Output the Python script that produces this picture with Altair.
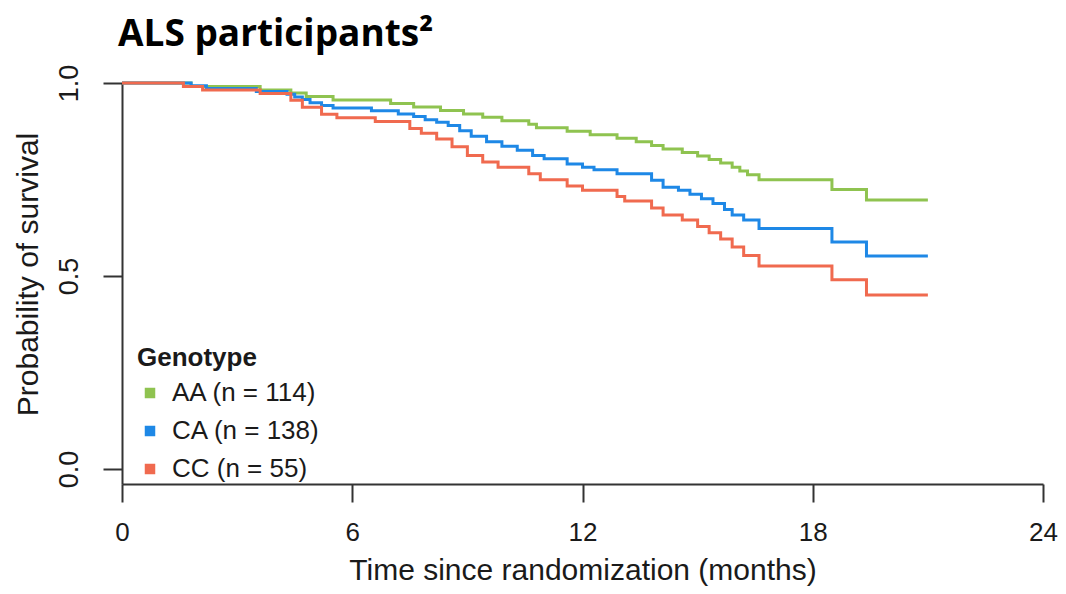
import altair as alt
import pandas as pd

# ---- data (Kaplan-Meier step curves) ----
genotypes = ["AA", "CA", "CC"]
n_per_group = [114, 138, 55]
colors = ["#8fc350", "#1e88e6", "#f06a4f"]

time_AA = [0, 1.8, 3.6, 4.4, 4.8, 5.5, 7.0, 7.6, 8.3, 8.9, 9.4, 9.9, 10.6, 10.8, 11.6,
           12.2, 12.9, 13.4, 13.8, 14.1, 14.6, 15.0, 15.3, 15.6, 15.9, 16.1, 16.3, 16.6,
           18.5, 19.4, 21.0]
surv_AA = [1.0, 0.991, 0.982, 0.974, 0.965, 0.956, 0.947, 0.938, 0.929, 0.920, 0.911, 0.902,
           0.893, 0.884, 0.875, 0.866, 0.857, 0.848, 0.838, 0.829, 0.820, 0.811, 0.802,
           0.793, 0.782, 0.772, 0.762, 0.749, 0.724, 0.697, 0.697]

time_CA = [0, 1.8, 2.2, 3.5, 4.3, 4.5, 4.7, 4.9, 5.2, 5.5, 6.5, 7.2, 7.6, 7.9, 8.2, 8.5,
           8.8, 9.1, 9.5, 9.9, 10.3, 10.7, 11.0, 11.6, 12.0, 12.3, 12.9, 13.8, 14.1, 14.5,
           14.8, 15.1, 15.4, 15.7, 15.9, 16.2, 16.6, 18.5, 19.4, 21.0]
surv_CA = [1.0, 0.993, 0.986, 0.978, 0.971, 0.964, 0.957, 0.949, 0.942, 0.935, 0.928, 0.920,
           0.913, 0.905, 0.898, 0.890, 0.876, 0.862, 0.848, 0.836, 0.826, 0.812, 0.804,
           0.790, 0.782, 0.775, 0.765, 0.748, 0.730, 0.722, 0.712, 0.700, 0.688, 0.672,
           0.658, 0.645, 0.623, 0.588, 0.552, 0.552]

time_CC = [0, 1.6, 2.1, 3.6, 4.4, 4.7, 5.2, 5.6, 6.6, 7.5, 7.8, 8.2, 8.6, 9.0, 9.4, 9.8,
           10.6, 10.9, 11.6, 12.0, 12.9, 13.1, 13.8, 14.1, 14.6, 15.0, 15.3, 15.6, 15.9,
           16.2, 16.6, 18.5, 19.4, 21.0]
surv_CC = [1.0, 0.991, 0.982, 0.973, 0.955, 0.937, 0.919, 0.910, 0.900, 0.882, 0.870, 0.855,
           0.835, 0.812, 0.795, 0.782, 0.765, 0.749, 0.733, 0.722, 0.706, 0.694, 0.676,
           0.658, 0.645, 0.628, 0.612, 0.596, 0.575, 0.553, 0.526, 0.490, 0.451, 0.451]

x_ticks = [0, 6, 12, 18, 24]
y_ticks = [0, 0.5, 1.0]

labels = [f"{g} (n = {n})" for g, n in zip(genotypes, n_per_group)]
series = [(time_AA, surv_AA), (time_CA, surv_CA), (time_CC, surv_CC)]

rows = []
for lab, (ts, ss) in zip(labels, series):
    for t, s in zip(ts, ss):
        rows.append({"time": t, "surv": s, "Genotype": lab})
df = pd.DataFrame(rows)

FONT = "Liberation Sans"

chart = alt.Chart(df).mark_line(interpolate="step-after", strokeWidth=3).encode(
    x=alt.X("time:Q",
            scale=alt.Scale(domain=[0, 24], nice=False, zero=False),
            axis=alt.Axis(values=x_ticks, title="Time since randomization (months)",
                          grid=False, tickSize=18, labelPadding=17, titlePadding=10,
                          labelFontSize=26, titleFontSize=30, labelFont=FONT, titleFont=FONT,
                          titleFontWeight="normal", labelColor="#1a1a1a", titleColor="#1a1a1a",
                          domainColor="#333333", tickColor="#333333", domainWidth=2, tickWidth=2,
                          labelFlush=False)),
    y=alt.Y("surv:Q",
            scale=alt.Scale(domain=[-0.039, 1.0], nice=False, zero=False),
            axis=alt.Axis(values=y_ticks, format=".1f", title="Probability of survival",
                          grid=False, tickSize=19, labelPadding=20, titlePadding=12,
                          labelAngle=-90, labelAlign="center", labelBaseline="bottom",
                          labelFontSize=27, titleFontSize=30, labelFont=FONT, titleFont=FONT,
                          titleFontWeight="normal", labelColor="#1a1a1a", titleColor="#1a1a1a",
                          domainColor="#333333", tickColor="#333333", domainWidth=2, tickWidth=2,
                          labelFlush=False, titleY=191)),
    color=alt.Color("Genotype:N",
                    scale=alt.Scale(domain=labels, range=colors),
                    sort=labels,
                    legend=alt.Legend(orient="none", legendX=15, legendY=262,
                                      title="Genotype", titleFont=FONT, titleFontSize=26,
                                      titleFontWeight="bold", titleColor="#1a1a1a",
                                      titlePadding=9, labelFont=FONT, labelFontSize=26,
                                      labelColor="#1a1a1a", symbolType="square", symbolSize=16,
                                      symbolStrokeWidth=6.5, labelOffset=9, rowPadding=8)),
).properties(
    width=921, height=401,
    title=alt.TitleParams("ALS participants²", anchor="start", frame="group",
                          font="Open Sans", fontSize=37, fontWeight="bold", color="black",
                          dx=-4, offset=10),
    autosize=alt.AutoSizeParams(type="none"),
    padding={"left": 114, "top": 75, "right": 15, "bottom": 104},
).configure(background="white").configure_view(strokeOpacity=0, strokeWidth=0)

chart.save("out.html", embed_options={"renderer": "svg", "actions": False})
